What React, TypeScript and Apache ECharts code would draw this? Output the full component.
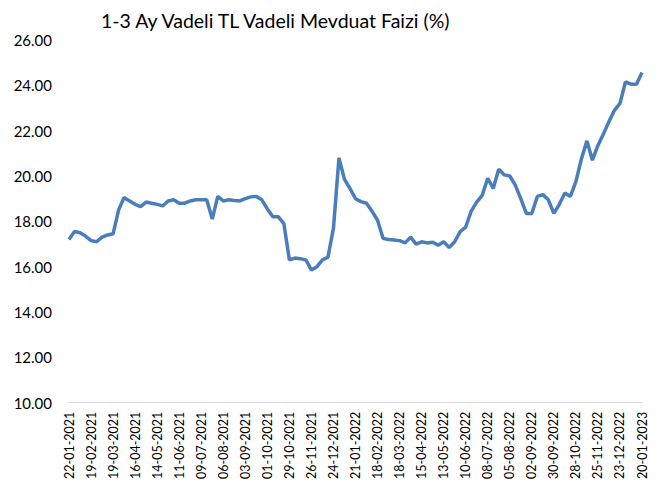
import React, { useEffect, useRef } from "react";
import * as echarts from "echarts";

const TITLE = "1-3 Ay Vadeli TL Vadeli Mevduat Faizi (%)";
const START_DATE = "2021-01-22";
const WEEKS = 105;
const Y_MIN = 10;
const Y_MAX = 26;
const Y_STEP = 2;

const rates: number[] = [
  17.2, 17.55, 17.5, 17.35, 17.15, 17.1, 17.3, 17.4, 17.45, 18.5,
  19.05, 18.9, 18.75, 18.65, 18.85, 18.8, 18.75, 18.68, 18.9, 18.95,
  18.8, 18.8, 18.9, 18.95, 18.95, 18.95, 18.1, 19.1, 18.9, 18.95,
  18.92, 18.9, 19.0, 19.08, 19.1, 18.95, 18.55, 18.2, 18.2, 17.9,
  16.3, 16.38, 16.35, 16.3, 15.85, 16.0, 16.3, 16.42, 17.7, 20.8,
  19.85, 19.45, 19.0, 18.87, 18.8, 18.45, 18.05, 17.25, 17.2, 17.18,
  17.15, 17.05, 17.3, 17.0, 17.1, 17.05, 17.08, 16.95, 17.1, 16.85,
  17.1, 17.55, 17.75, 18.45, 18.85, 19.15, 19.9, 19.45, 20.3, 20.05,
  20.0, 19.6, 19.0, 18.35, 18.35, 19.1, 19.18, 18.95, 18.35, 18.75,
  19.25, 19.1, 19.75, 20.75, 21.55, 20.7, 21.35, 21.85, 22.4, 22.9,
  23.2, 24.15, 24.05, 24.05, 24.57,
];

function weeklyDates(start: string, n: number): string[] {
  const out: string[] = [];
  const base = Date.parse(start + "T00:00:00Z");
  for (let i = 0; i < n; i++) {
    const d = new Date(base + i * 7 * 86400000);
    const dd = String(d.getUTCDate()).padStart(2, "0");
    const mm = String(d.getUTCMonth() + 1).padStart(2, "0");
    out.push(`${dd}-${mm}-${d.getUTCFullYear()}`);
  }
  return out;
}

const dates = weeklyDates(START_DATE, WEEKS);

export default function App() {
  const ref = useRef<HTMLDivElement>(null);
  useEffect(() => {
    if (!ref.current) return;
    const chart = echarts.init(ref.current, undefined, { renderer: "svg" });
    chart.setOption({
      animation: false,
      backgroundColor: "#ffffff",
      title: {
        text: TITLE,
        left: 96,
        top: 5,
        textStyle: {
          fontFamily: "Lato",
          fontSize: 19.5,
          fontWeight: "normal",
          color: "#000000",
        },
      },
      grid: { left: 69, right: 24, top: 40, bottom: 77, containLabel: false },
      xAxis: {
        type: "category",
        data: dates,
        boundaryGap: false,
        axisLine: { show: true, lineStyle: { color: "#d9d9d9", width: 1 } },
        axisTick: { show: false },
        splitLine: { show: false },
        axisLabel: {
          interval: 3,
          rotate: 90,
          margin: 9,
          fontFamily: "Lato",
          fontSize: 12.5,
          color: "#000000",
        },
      },
      yAxis: {
        type: "value",
        min: Y_MIN,
        max: Y_MAX,
        interval: Y_STEP,
        axisLine: { show: false },
        axisTick: { show: false },
        splitLine: { show: false },
        axisLabel: {
          formatter: (v: number) => v.toFixed(2),
          margin: 17,
          fontFamily: "Lato",
          fontSize: 15,
          color: "#000000",
        },
      },
      series: [
        {
          type: "line",
          data: rates,
          symbol: "none",
          smooth: false,
          lineStyle: { color: "#4a7ebb", width: 3.5 },
          itemStyle: { color: "#4a7ebb" },
        },
      ],
    });
    return () => chart.dispose();
  }, []);
  return <div ref={ref} style={{ width: 666, height: 482, position: "absolute", left: 0, top: 0 }} />;
}
